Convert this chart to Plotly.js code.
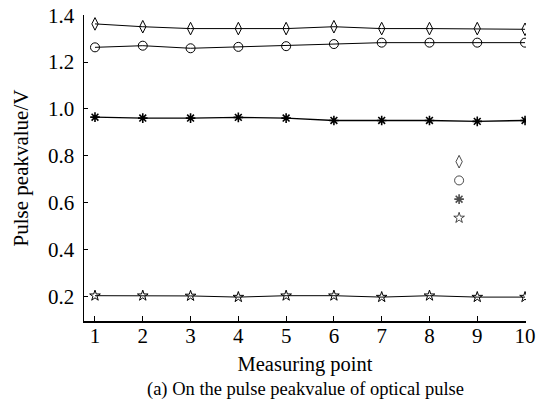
<!DOCTYPE html>
<html>
<head>
<meta charset="utf-8">
<script src="https://cdn.plot.ly/plotly-3.0.1.min.js"></script>
<style>html,body{margin:0;padding:0;background:#fff;}#chart{width:544px;height:403px;}</style>
</head>
<body>
<div id="chart"></div>
<script>
const points = [1, 2, 3, 4, 5, 6, 7, 8, 9, 10];
const seriesDiamond = [1.363, 1.351, 1.343, 1.343, 1.343, 1.351, 1.343, 1.343, 1.343, 1.340];
const seriesCircle = [1.263, 1.270, 1.259, 1.265, 1.268, 1.277, 1.283, 1.283, 1.283, 1.283];
const seriesAsterisk = [0.965, 0.961, 0.961, 0.964, 0.961, 0.951, 0.951, 0.951, 0.947, 0.951];
const seriesStar = [0.203, 0.203, 0.202, 0.197, 0.203, 0.203, 0.197, 0.203, 0.197, 0.197];
const keyX = [8.62, 8.62, 8.62, 8.62];
const keyY = [0.775, 0.695, 0.615, 0.535];
const yTicks = [0.2, 0.4, 0.6, 0.8, 1.0, 1.2, 1.4];
const yTickText = ['0.2', '0.4', '0.6', '0.8', '1.0', '1.2', '1.4'];

const font = 'Liberation Serif, Times New Roman, serif';
const symbols = ['diamond-tall-open', 'circle-open', 'asterisk-open', 'star-open'];
const sizes = [9, 9, 8, 8];
const allSeries = [seriesDiamond, seriesCircle, seriesAsterisk, seriesStar];

const traces = allSeries.map((ys, i) => ({
  x: points, y: ys, type: 'scatter', mode: 'lines+markers',
  line: {color: '#000', width: i === 2 ? 1.4 : 1},
  marker: {symbol: symbols[i], size: sizes[i], color: '#000', line: {color: '#000', width: i === 2 ? 1.6 : 1}},
  showlegend: false, hoverinfo: 'skip'
}));
traces.push({
  x: keyX, y: keyY, type: 'scatter', mode: 'markers',
  marker: {symbol: symbols, size: sizes, color: '#000', line: {color: '#000', width: [1, 1, 1.6, 1]}},
  showlegend: false, hoverinfo: 'skip'
});

const layout = {
  width: 544, height: 403,
  margin: {l: 84, r: 18, t: 15, b: 82},
  paper_bgcolor: '#fff', plot_bgcolor: '#fff',
  font: {family: font, color: '#000', size: 21},
  xaxis: {
    range: [0.77, 10.02], tickvals: points, ticks: 'inside', ticklen: 5, tickwidth: 1, tickcolor: '#000',
    showline: true, linecolor: '#000', linewidth: 1.5, mirror: false, showgrid: false, zeroline: false,
    tickfont: {family: font, size: 21, color: '#000'},
    ticklabelstandoff: -5,
    title: {text: 'Measuring point', font: {family: font, size: 20.5, color: '#000'}, standoff: 10},
    automargin: false
  },
  yaxis: {
    range: [0.095, 1.401], tickvals: yTicks, ticktext: yTickText, ticks: 'inside', ticklen: 4, tickwidth: 1, tickcolor: '#000',
    showline: true, linecolor: '#000', linewidth: 1.5, mirror: false, showgrid: false, zeroline: false,
    tickfont: {family: font, size: 21, color: '#000'},
    ticklabelstandoff: 4,
    title: {text: 'Pulse peakvalue/V', font: {family: font, size: 21, color: '#000'}, standoff: 13},
    automargin: false
  },
  annotations: [{
    text: '(a) On the pulse peakvalue of optical pulse', xref: 'paper', yref: 'paper',
    x: 0.5, y: -0.224, xanchor: 'center', yanchor: 'middle', showarrow: false,
    font: {family: font, size: 18.5, color: '#000'}
  }]
};
Plotly.newPlot('chart', traces, layout, {staticPlot: true, displayModeBar: false});
</script>
</body>
</html>
